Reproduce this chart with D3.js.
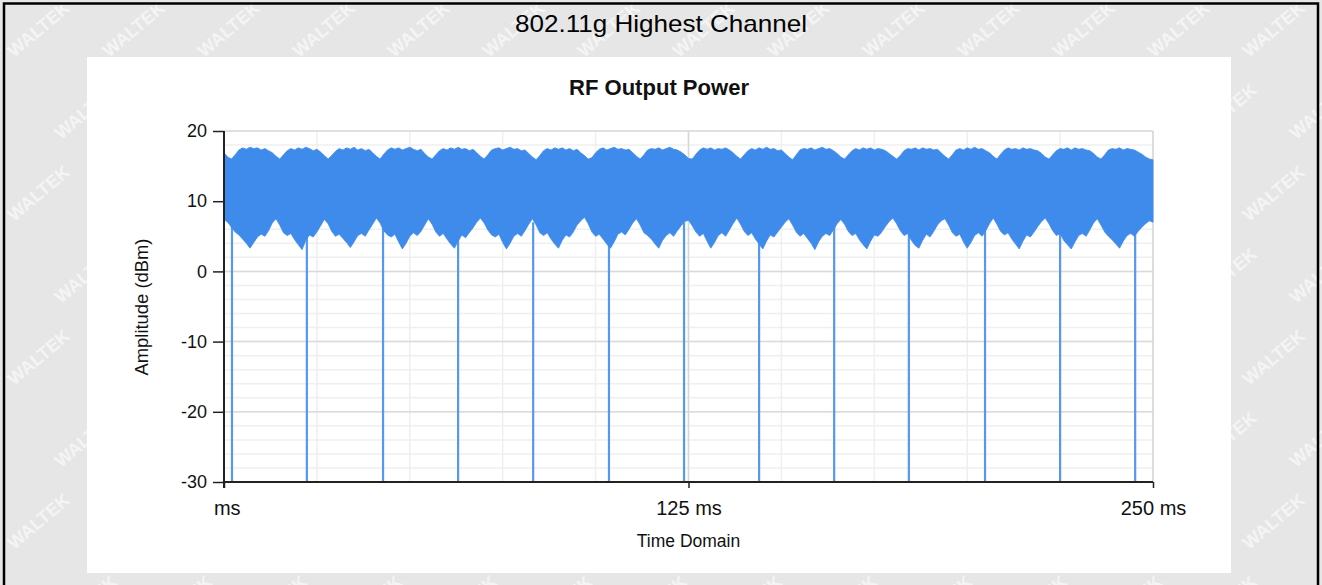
<!DOCTYPE html>
<html>
<head>
<meta charset="utf-8">
<script src="https://cdn.jsdelivr.net/npm/d3@7"></script>
<style>
  html, body { margin: 0; padding: 0; background: #e6e6e6; }
  svg { display: block; }
  text { font-family: "Liberation Sans", Arial, sans-serif; }
</style>
</head>
<body>
<svg id="chart" width="1322" height="585"></svg>
<script>
// ---------------- data ----------------
const pageTitle = "802.11g Highest Channel";
const chartTitle = "RF Output Power";
const xAxisTitle = "Time Domain";
const yAxisTitle = "Amplitude (dBm)";
const xTicks = [0, 125, 250];
const xTickLabels = [" ms", "125 ms", "250 ms"];
const yTicks = [-30, -20, -10, 0, 10, 20];
const yTickLabels = ["-30", "-20", "-10", "0", "10", "20"];

// sample times (ms), one per ms
const times = d3.range(0, 251);

// upper envelope of the amplitude band (dBm), one value per ms
const upper = [
16.9,16.3,16.0,16.6,17.3,17.6,17.4,17.7,17.5,17.6,17.3,17.5,17.2,16.9,16.4,16.0,16.6,17.2,17.5,17.3,
17.6,17.4,17.7,17.5,17.2,17.4,17.0,16.5,16.0,16.5,17.1,17.5,17.3,17.6,17.4,17.7,17.3,17.5,17.2,17.4,
16.9,16.4,16.0,16.7,17.3,17.6,17.4,17.6,17.3,17.5,17.7,17.4,17.2,17.4,16.8,16.3,16.0,16.6,17.2,17.5,
17.3,17.6,17.4,17.7,17.4,17.5,17.2,17.4,16.9,16.4,16.0,16.6,17.3,17.5,17.6,17.3,17.5,17.7,17.4,17.5,
17.2,17.3,16.8,16.3,15.9,16.5,17.2,17.5,17.3,17.6,17.4,17.6,17.3,17.5,17.2,17.4,16.9,16.5,16.0,16.2,
16.9,17.4,17.6,17.3,17.5,17.7,17.4,17.5,17.3,17.4,16.9,16.4,16.0,16.6,17.3,17.5,17.4,17.6,17.3,17.5,
17.7,17.4,17.3,17.0,16.6,16.1,16.0,16.7,17.3,17.6,17.4,17.6,17.3,17.5,17.4,17.6,17.3,16.9,16.4,16.0,
16.6,17.2,17.5,17.3,17.6,17.4,17.7,17.4,17.5,17.2,17.3,16.8,16.3,15.9,16.6,17.3,17.5,17.4,17.6,17.3,
17.5,17.7,17.4,17.5,17.2,16.8,16.3,16.0,16.6,17.2,17.5,17.3,17.6,17.4,17.6,17.3,17.5,17.4,17.2,16.8,
16.4,16.0,16.5,17.2,17.5,17.4,17.6,17.3,17.6,17.4,17.5,17.3,17.4,16.9,16.4,16.0,16.6,17.3,17.5,17.3,
17.6,17.4,17.7,17.4,17.5,17.2,16.9,16.4,16.0,16.7,17.3,17.6,17.4,17.5,17.3,17.6,17.4,17.5,17.3,17.2,
16.8,16.3,16.0,16.6,17.2,17.5,17.4,17.6,17.3,17.6,17.4,17.5,17.3,17.2,16.8,16.3,16.0,16.6,17.3,17.5,
17.4,17.6,17.3,17.5,17.4,17.3,17.0,16.7,16.3,16.0,15.9
];

// lower envelope of the amplitude band (dBm), one value per ms
const lower = [
7.4,7.0,6.3,5.6,5.2,4.6,4.0,3.3,4.1,4.9,5.3,5.0,5.8,6.9,7.5,6.6,5.5,5.1,5.4,4.5,
3.8,3.1,4.4,5.2,4.9,5.6,6.5,7.4,6.8,5.7,5.0,5.3,4.7,4.1,3.4,4.2,5.1,5.4,5.0,5.9,
6.7,7.6,6.9,5.8,5.2,4.9,5.3,4.2,3.2,4.0,5.0,5.5,5.1,5.7,6.6,7.5,6.7,5.6,5.0,5.4,
4.6,3.9,3.3,4.3,5.2,4.8,5.5,6.2,7.0,7.6,6.9,5.9,5.2,4.9,5.3,4.1,3.2,4.0,5.0,5.4,
5.0,5.8,6.7,7.5,6.6,5.5,5.1,5.5,4.6,3.9,3.3,4.4,5.2,4.9,5.6,6.6,7.2,7.7,6.8,5.6,
5.0,5.3,4.6,3.9,3.3,4.2,5.3,5.6,5.2,6.0,6.9,7.5,6.6,5.5,5.1,4.6,3.9,3.3,4.4,5.1,
5.5,5.0,5.8,6.5,7.1,7.3,6.5,5.6,5.0,5.4,4.3,3.3,4.1,5.1,5.5,5.0,5.9,6.8,7.6,6.7,
5.7,5.1,5.5,4.6,3.9,3.2,4.3,5.2,4.9,5.6,6.3,7.0,7.5,6.6,5.6,5.0,5.4,4.7,4.0,3.1,
4.2,5.0,5.4,5.1,5.9,6.8,7.4,6.7,5.7,5.1,5.4,4.5,3.8,3.2,4.3,5.2,5.0,5.6,6.4,7.1,
7.6,6.8,5.8,5.1,5.4,4.4,3.7,3.3,4.4,5.3,4.9,5.7,6.6,7.2,7.5,6.6,5.5,5.0,5.3,4.2,
3.3,4.1,5.1,5.5,5.0,5.8,6.8,7.6,6.7,5.7,5.2,5.5,4.6,3.9,3.2,4.3,5.2,4.9,5.6,6.4,
7.1,7.6,6.8,5.8,5.1,5.4,4.4,3.8,3.2,4.2,5.1,5.4,5.0,5.9,6.9,7.5,6.6,5.6,5.0,4.5,
3.9,3.3,4.3,5.1,5.4,5.0,5.7,6.3,6.8,7.2,7.0
];

// times (ms) of the short dropouts down to the floor
const dropTimes = [2.15, 22.3, 42.8, 63.0, 83.2, 103.6, 123.8, 144.0, 164.2, 184.3, 204.8, 225.0, 245.2];
const dropFloor = -30;

// ---------------- drawing ----------------
const W = 1322, H = 585;
const svg = d3.select("#chart");

// page background
svg.append("rect").attr("width", W).attr("height", H).attr("fill", "#e6e6e6");

// watermark
const wm = svg.append("g").attr("fill", "#ffffff").attr("fill-opacity", 0.6)
  .attr("font-size", 18).attr("font-weight", "bold").attr("font-family", "Liberation Sans, Arial, sans-serif");
for (let r = 0; r < 8; r++) {
  for (let c = 0; c < 14; c++) {
    const x = c * 95 + (r % 2 === 0 ? 0 : 47) + 14;
    const y = r * 82 + 58;
    wm.append("text").attr("transform", `translate(${x},${y}) rotate(-40)`).text("WALTEK");
  }
}

// outer frame
svg.append("path").attr("d", `M4,${H + 5} V3.5 H1318 V${H + 5}`)
  .attr("fill", "none").attr("stroke", "#000").attr("stroke-width", 2.5);

// page title
svg.append("text").attr("x", 661).attr("y", 32).attr("text-anchor", "middle")
  .attr("font-size", 24).attr("fill", "#000")
  .attr("textLength", 292).attr("lengthAdjust", "spacingAndGlyphs").text(pageTitle);

// white chart panel
svg.append("rect").attr("x", 87).attr("y", 57).attr("width", 1144).attr("height", 516).attr("fill", "#fff");

// chart title
svg.append("text").attr("x", 659).attr("y", 95).attr("text-anchor", "middle")
  .attr("font-size", 21.5).attr("font-weight", "bold").attr("fill", "#111")
  .attr("textLength", 180).attr("lengthAdjust", "spacingAndGlyphs").text(chartTitle);

// scales
const x = d3.scaleLinear().domain([0, 250]).range([224, 1153]);
const y = d3.scaleLinear().domain([-30, 20]).range([482, 131]);

// grid
const grid = svg.append("g");
grid.selectAll("line.hmin").data(d3.range(-30, 21, 2)).join("line")
  .attr("x1", x(0)).attr("x2", x(250)).attr("y1", d => y(d)).attr("y2", d => y(d))
  .attr("stroke", "#efefef").attr("stroke-width", 1.5);
grid.selectAll("line.vmin").data(d3.range(0, 251, 25)).join("line")
  .attr("x1", d => x(d)).attr("x2", d => x(d)).attr("y1", y(-30)).attr("y2", y(20))
  .attr("stroke", "#efefef").attr("stroke-width", 1.5);
grid.selectAll("line.hmaj").data(yTicks).join("line")
  .attr("x1", x(0)).attr("x2", x(250)).attr("y1", d => y(d)).attr("y2", d => y(d))
  .attr("stroke", "#dadada").attr("stroke-width", 1.5);
grid.selectAll("line.vmaj").data(xTicks.slice(1)).join("line")
  .attr("x1", d => x(d)).attr("x2", d => x(d)).attr("y1", y(-30)).attr("y2", y(20))
  .attr("stroke", "#d6d6d6").attr("stroke-width", 1.5);

// series: dropouts
const blue = "#3f8bec";
svg.append("g").selectAll("line").data(dropTimes).join("line")
  .attr("x1", d => x(d)).attr("x2", d => x(d))
  .attr("y1", y(dropFloor)).attr("y2", y(7))
  .attr("stroke", "#5598ef").attr("stroke-width", 2.2);

// series: amplitude band
const band = d3.area()
  .x((d, i) => x(times[i]))
  .y0((d, i) => y(lower[i]))
  .y1((d, i) => y(upper[i]));
svg.append("path").datum(times).attr("d", band)
  .attr("fill", blue).attr("stroke", blue).attr("stroke-width", 0.8).attr("stroke-linejoin", "round");

// axes
const axisColor = "#222";
const yAxis = svg.append("g").attr("transform", `translate(${x(0)},0)`)
  .call(d3.axisLeft(y).tickValues(yTicks).tickSize(11).tickPadding(6)
    .tickFormat((d, i) => yTickLabels[i]));
yAxis.select(".domain").attr("stroke", axisColor).attr("stroke-width", 2).attr("d", `M0,${y(20)}V${y(-30) + 6}`);
yAxis.selectAll(".tick line").attr("stroke", axisColor).attr("stroke-width", 1.5);
yAxis.selectAll(".tick text").attr("font-size", 18).attr("fill", "#111")
  .attr("font-family", "Liberation Sans, Arial, sans-serif");

const xAxis = svg.append("g").attr("transform", `translate(0,${y(-30)})`)
  .call(d3.axisBottom(x).tickValues(xTicks).tickSize(6).tickPadding(13)
    .tickFormat((d, i) => xTickLabels[i]));
xAxis.select(".domain").attr("stroke", axisColor).attr("stroke-width", 1.8).attr("d", `M${x(0)},0H${x(250)}`);
xAxis.selectAll(".tick line").attr("stroke", axisColor).attr("stroke-width", 1.5);
xAxis.selectAll(".tick text").attr("font-size", 20).attr("fill", "#111")
  .attr("font-family", "Liberation Sans, Arial, sans-serif").style("white-space", "pre");

// axis titles
svg.append("text").attr("x", (x(0) + x(250)) / 2).attr("y", 547).attr("text-anchor", "middle")
  .attr("font-size", 17.5).attr("fill", "#111").text(xAxisTitle);
svg.append("text").attr("transform", `translate(148,307) rotate(-90)`).attr("text-anchor", "middle")
  .attr("font-size", 18).attr("fill", "#111")
  .attr("textLength", 137).attr("lengthAdjust", "spacingAndGlyphs").text(yAxisTitle);
</script>
</body>
</html>
